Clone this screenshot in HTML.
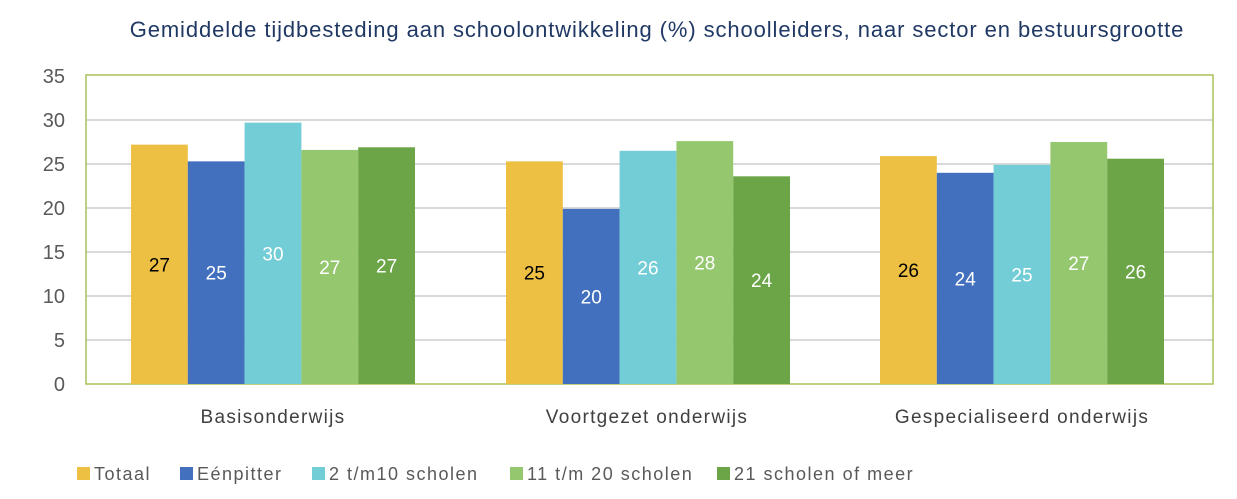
<!DOCTYPE html>
<html><head><meta charset="utf-8"><style>
body{margin:0;background:#fff;}
svg{display:block;font-family:"Liberation Sans",sans-serif;}
</style></head><body>
<svg width="1237" height="499" viewBox="0 0 1237 499">
<text x="657" y="37" text-anchor="middle" font-size="22" letter-spacing="0.9" fill="#1F3864">Gemiddelde tijdbesteding aan schoolontwikkeling (%) schoolleiders, naar sector en bestuursgrootte</text>
<g stroke="#d9d9d9" stroke-width="2">
<line x1="86" x2="1213" y1="120" y2="120"/>
<line x1="86" x2="1213" y1="164" y2="164"/>
<line x1="86" x2="1213" y1="208" y2="208"/>
<line x1="86" x2="1213" y1="252" y2="252"/>
<line x1="86" x2="1213" y1="296" y2="296"/>
<line x1="86" x2="1213" y1="340" y2="340"/>
</g>
<rect x="86" y="75" width="1127" height="309" fill="none" stroke="#a9c25a" stroke-width="1.5"/>
<g font-size="20" fill="#595959" text-anchor="end">
<text x="65" y="83">35</text><text x="65" y="127">30</text><text x="65" y="171">25</text><text x="65" y="215">20</text><text x="65" y="259">15</text><text x="65" y="303">10</text><text x="65" y="347">5</text><text x="65" y="391">0</text>
</g>
<g>
<rect x="131" y="144.64" width="56.8" height="239.36" fill="#EDC043"/>
<rect x="187.8" y="161.36" width="56.8" height="222.64" fill="#4270BF"/>
<rect x="244.6" y="122.64" width="56.8" height="261.36" fill="#73CDD6"/>
<rect x="301.4" y="149.92" width="56.8" height="234.08" fill="#94C76E"/>
<rect x="358.2" y="147.28" width="56.8" height="236.72" fill="#6BA547"/>
<rect x="506" y="161.36" width="56.8" height="222.64" fill="#EDC043"/>
<rect x="562.8" y="208.88" width="56.8" height="175.12" fill="#4270BF"/>
<rect x="619.6" y="150.8" width="56.8" height="233.2" fill="#73CDD6"/>
<rect x="676.4" y="141.12" width="56.8" height="242.88" fill="#94C76E"/>
<rect x="733.2" y="176.32" width="56.8" height="207.68" fill="#6BA547"/>
<rect x="880" y="156.08" width="56.8" height="227.92" fill="#EDC043"/>
<rect x="936.8" y="172.8" width="56.8" height="211.2" fill="#4270BF"/>
<rect x="993.6" y="164.88" width="56.8" height="219.12" fill="#73CDD6"/>
<rect x="1050.4" y="142" width="56.8" height="242" fill="#94C76E"/>
<rect x="1107.2" y="158.72" width="56.8" height="225.28" fill="#6BA547"/>
</g>
<g font-size="19" text-anchor="middle" fill="#fff">
<text x="159.4" y="271.3" fill="#000">27</text>
<text x="216.2" y="279.7">25</text>
<text x="273" y="260.3">30</text>
<text x="329.8" y="274">27</text>
<text x="386.6" y="272.6">27</text>
<text x="534.4" y="279.7" fill="#000">25</text>
<text x="591.2" y="303.4">20</text>
<text x="648" y="274.4">26</text>
<text x="704.8" y="269.6">28</text>
<text x="761.6" y="287.2">24</text>
<text x="908.4" y="277" fill="#000">26</text>
<text x="965.2" y="285.4">24</text>
<text x="1022" y="281.4">25</text>
<text x="1078.8" y="270">27</text>
<text x="1135.6" y="278.4">26</text>
</g>
<g font-size="19" letter-spacing="1.3" fill="#404040" text-anchor="middle">
<text x="273" y="423">Basisonderwijs</text>
<text x="647" y="423">Voortgezet onderwijs</text>
<text x="1022" y="423">Gespecialiseerd onderwijs</text>
</g>
<g font-size="18" letter-spacing="1.5" fill="#595959">
<rect x="77" y="467" width="13" height="13" fill="#EDC043"/><text x="94" y="480">Totaal</text>
<rect x="180" y="467" width="13" height="13" fill="#4270BF"/><text x="197" y="480">Eénpitter</text>
<rect x="312" y="467" width="13" height="13" fill="#73CDD6"/><text x="329" y="480">2 t/m10 scholen</text>
<rect x="510" y="467" width="13" height="13" fill="#94C76E"/><text x="527" y="480">11 t/m 20 scholen</text>
<rect x="717" y="467" width="13" height="13" fill="#6BA547"/><text x="734" y="480">21 scholen of meer</text>
</g>
</svg>
</body></html>
